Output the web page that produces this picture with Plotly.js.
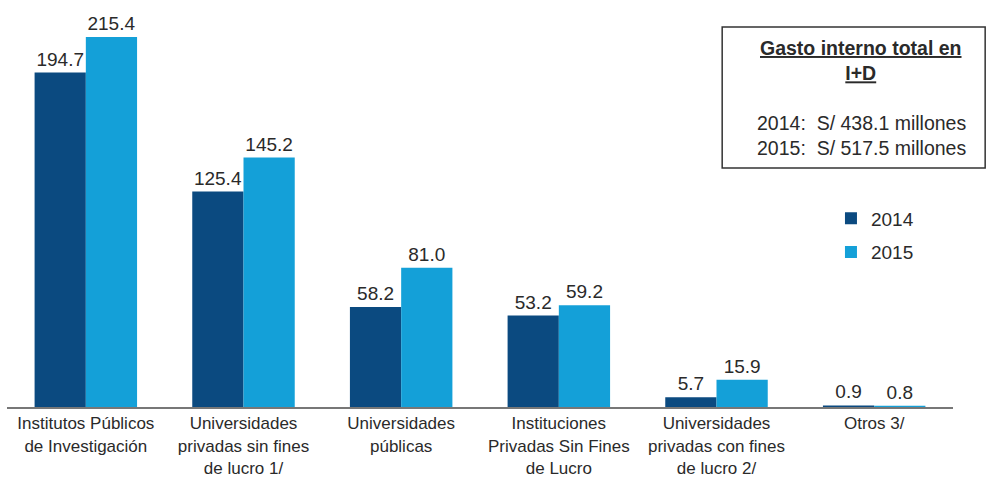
<!DOCTYPE html>
<html>
<head>
<meta charset="utf-8">
<script src="https://cdn.plot.ly/plotly-3.0.1.min.js"></script>
<style>html,body{margin:0;padding:0;background:#fff;}#chart{width:987px;height:479px;}</style>
</head>
<body>
<div id="chart"></div>
<script>
const categories = [
  "Institutos Públicos<br>de Investigación",
  "Universidades<br>privadas sin fines<br>de lucro 1/",
  "Universidades<br>públicas",
  "Instituciones<br>Privadas Sin Fines<br>de Lucro",
  "Universidades<br>privadas con fines<br>de lucro 2/",
  "Otros 3/"
];
const values2014 = [194.7, 125.4, 58.2, 53.2, 5.7, 0.9];
const values2015 = [215.4, 145.2, 81.0, 59.2, 15.9, 0.8];
const seriesNames = ["2014", "2015"];
const boxTitle = "Gasto interno total en<br>I+D";
const boxLines = ["2014:  S/ 438.1 millones", "2015:  S/ 517.5 millones"];

const FONT = "Liberation Sans, Arial, sans-serif";
const fmt = v => v.toFixed(1);

const traces = [
  {type: "bar", name: seriesNames[0], legendgroup: "a", x: categories, y: values2014,
   marker: {color: "#0b4a80"}, text: values2014.map(fmt), textposition: "outside",
   constraintext: "none", cliponaxis: false, textfont: {family: FONT, size: 19, color: "#2a2a2a"}},
  {type: "bar", name: seriesNames[1], legendgroup: "b", x: categories, y: values2015,
   marker: {color: "#14a0d8"}, text: values2015.map(fmt), textposition: "outside",
   constraintext: "none", cliponaxis: false, textfont: {family: FONT, size: 19, color: "#2a2a2a"}}
];

const layout = {
  width: 987, height: 479,
  margin: {l: 7, r: 34, t: 10, b: 72},
  paper_bgcolor: "#fff", plot_bgcolor: "#fff",
  font: {family: FONT, size: 18, color: "#2a2a2a"},
  barmode: "group", bargap: 0.35, bargroupgap: 0,
  xaxis: {showline: true, linecolor: "#777", linewidth: 2, ticks: "", showgrid: false,
          tickfont: {family: FONT, size: 17, color: "#2a2a2a"}, fixedrange: true},
  yaxis: {range: [0, 231.1], visible: false, showgrid: false, zeroline: false},
  legend: {x: 0.871, y: 0.523, xanchor: "left", yanchor: "top", tracegroupgap: 6,
           font: {family: FONT, size: 19, color: "#2a2a2a"}, bgcolor: "rgba(0,0,0,0)"},
  shapes: [
    {type: "rect", xref: "paper", yref: "paper", x0: 0.756, x1: 1.034, y0: 0.602, y1: 0.957,
     line: {color: "#333", width: 1.5}, fillcolor: "rgba(0,0,0,0)"}
  ],
  annotations: [
    {xref: "paper", yref: "paper", x: 0.903, y: 0.873, xanchor: "center", yanchor: "middle",
     text: "<b>" + boxTitle + "</b>", showarrow: false, align: "center",
     font: {family: FONT, size: 19.5, color: "#2a2a2a", lineposition: "under"}},
    {xref: "paper", yref: "paper", x: 0.903, y: 0.685, xanchor: "center", yanchor: "middle",
     text: boxLines.join("<br>"), showarrow: false, align: "left",
     font: {family: FONT, size: 19.5, color: "#2a2a2a"}}
  ]
};

Plotly.newPlot("chart", traces, layout, {displayModeBar: false, staticPlot: true});
</script>
</body>
</html>
